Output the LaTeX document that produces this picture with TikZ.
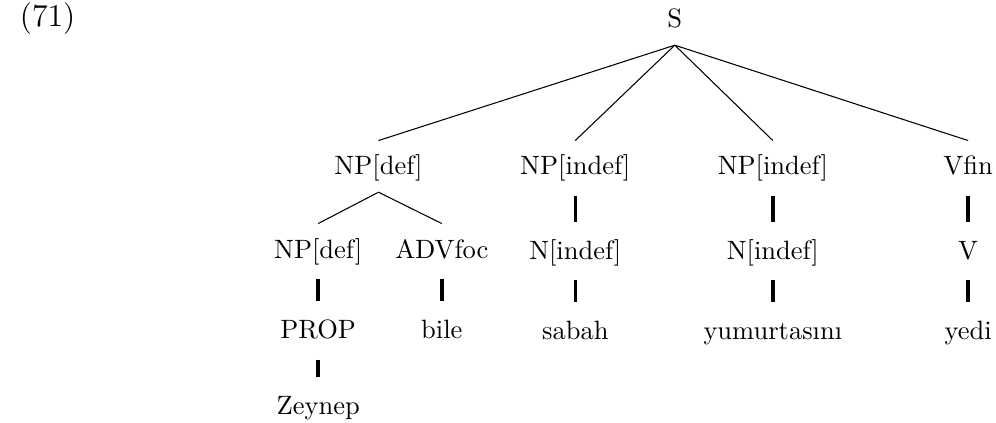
\documentclass[tikz,border=0pt]{standalone}
\usepackage{tikz}
\usetikzlibrary{positioning}

\begin{document}
\begin{tikzpicture}[node distance=.38cm,
  cat/.style={inner sep=0pt,text height=12.8pt,text depth=6.3pt},
  bar/.style={line width=1.3pt,shorten <=1.5pt,shorten >=1pt}]
  \useasboundingbox (0,0) rectangle (13.21,-5.61);

  \node[anchor=base west,font=\large] (ex) at (0.14,-0.358) {(71)};
  \node[cat,anchor=base] (s) at (8.95,-0.371) {S};

  \node[cat,anchor=base] (np) at (5.02,-2.321) {NP[def]};
  \node[cat,anchor=base] (npa) at (7.63,-2.321) {NP[indef]};
  \node[cat,anchor=base] (npb) at (10.25,-2.321) {NP[indef]};
  \node[cat,anchor=base] (vfin) at (12.84,-2.321) {Vfin};

  \node[cat,anchor=base] (npd) at (4.22,-3.422) {NP[def]};
  \node[cat,anchor=base] (adv) at (5.86,-3.422) {ADVfoc};
  \node[cat] (na) [below=.43cm of npa] {N[indef]};
  \node[cat] (nb) [below=.43cm of npb] {N[indef]};
  \node[cat] (v) [below=.43cm of vfin] {V};

  \node[cat] (prop) [below=of npd] {PROP};
  \node[cat] (bile) [below=of adv] {bile};
  \node[cat] (sabah) [below=of na] {sabah};
  \node[cat] (yum) [below=of nb] {yumurtas\i n\i};
  \node[cat] (yedi) [below=of v] {yedi};

  \node[cat] (zey) [below=.32cm of prop] {Zeynep};

  \path (s.south) edge (np.north)
    (s.south) edge (npa.north)
    (s.south) edge (npb.north)
    (s.south) edge (vfin.north)
    (np.south) edge (npd.north)
    (np.south) edge (adv.north);

  \path[bar] (npa) edge (na)
    (npb) edge (nb)
    (vfin) edge (v)
    (npd) edge (prop)
    (adv) edge (bile)
    (na) edge (sabah)
    (nb) edge (yum)
    (v) edge (yedi)
    (prop) edge (zey);
\end{tikzpicture}
\end{document}
